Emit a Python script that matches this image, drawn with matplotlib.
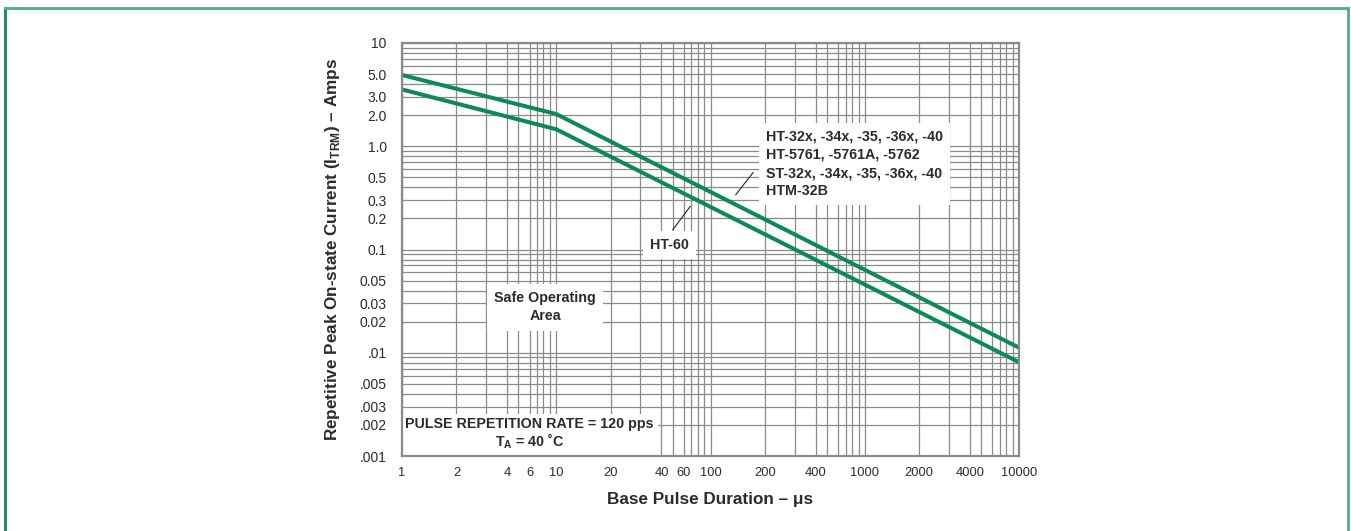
import numpy as np
import matplotlib
matplotlib.use("Agg")
import matplotlib.pyplot as plt
from matplotlib.lines import Line2D
from matplotlib.ticker import FixedLocator, NullFormatter

plt.rcParams['font.family'] = ['Liberation Sans', 'DejaVu Sans']
plt.rcParams['mathtext.fontset'] = 'custom'
plt.rcParams['mathtext.rm'] = 'Liberation Sans'
plt.rcParams['mathtext.bf'] = 'Liberation Sans:bold'

# --- data ---
pulse_us = [1, 10, 10000]
ht32_amps = [4.9, 2.05, 0.0112]     # HT-32x ... HTM-32B
ht60_amps = [3.55, 1.46, 0.0081]    # HT-60

x_ticks = [1, 2, 4, 6, 10, 20, 40, 60, 100, 200, 400, 1000, 2000, 4000, 10000]
x_labels = [str(v) for v in x_ticks]
y_ticks = [10, 5, 3, 2, 1, 0.5, 0.3, 0.2, 0.1, 0.05, 0.03, 0.02, 0.01,
           0.005, 0.003, 0.002, 0.001]
y_labels = ["10", "5.0", "3.0", "2.0", "1.0", "0.5", "0.3", "0.2", "0.1",
            "0.05", "0.03", "0.02", ".01", ".005", ".003", ".002", ".001"]

big_label = ("HT-32x, -34x, -35, -36x, -40\n"
             "HT-5761, -5761A, -5762\n"
             "ST-32x, -34x, -35, -36x, -40\n"
             "HTM-32B")

# the printed x grid is a log grid squeezed the same way inside every decade
LOG_KNOTS = np.log10(np.arange(1, 11))
GRID_KNOTS = np.array([0, .353, .545, .682, .755, .828, .876, .917, .961, 1.0])


def fwd(x):
    lx = np.log10(np.clip(np.asarray(x, dtype=float), 1e-12, None))
    d = np.floor(lx)
    return d + np.interp(lx - d, LOG_KNOTS, GRID_KNOTS)


def inv(y):
    y = np.asarray(y, dtype=float)
    d = np.floor(y)
    return 10 ** (d + np.interp(y - d, GRID_KNOTS, LOG_KNOTS))


GREEN = '#0b8a56'
GRID = '#8a8a8a'
TXT = '#2b2b2b'
FS = 10.3

fig = plt.figure(figsize=(13.51, 5.31), dpi=100)
ax = fig.add_axes([402 / 1351, 75 / 531, 617 / 1351, 413 / 531])

ax.set_xscale('function', functions=(fwd, inv))
ax.set_yscale('log')
ax.set_xlim(1, 10000)
ax.set_ylim(0.001, 10)

minor_x = [m * 10 ** k for k in range(4) for m in range(2, 10)]
minor_y = [m * 10.0 ** k for k in range(-3, 1) for m in range(2, 10)]
ax.xaxis.set_major_locator(FixedLocator(x_ticks))
ax.xaxis.set_minor_locator(FixedLocator(minor_x))
ax.set_xticks(x_ticks, x_labels)
ax.xaxis.set_minor_formatter(NullFormatter())
ax.yaxis.set_major_locator(FixedLocator(y_ticks))
ax.yaxis.set_minor_locator(FixedLocator(minor_y))
ax.set_yticks(y_ticks, y_labels)
ax.yaxis.set_minor_formatter(NullFormatter())

ax.grid(True, which='both', color=GRID, lw=0.9)
ax.set_axisbelow(True)
ax.tick_params(which='both', length=0, colors=TXT)
ax.tick_params(axis='x', pad=8, labelsize=9.3)
ax.tick_params(axis='y', pad=11, labelsize=10)
for s in ax.spines.values():
    s.set_color('#8a8a8a')
    s.set_linewidth(1.6)
    s.set_zorder(6)

ax.plot(pulse_us, ht32_amps, color=GREEN, lw=2.9, solid_joinstyle='round', zorder=4)
ax.plot(pulse_us, ht60_amps, color=GREEN, lw=2.9, solid_joinstyle='round', zorder=4)

ax.set_xlabel("Base Pulse Duration – μs", fontsize=12.3, fontweight='bold',
              color=TXT, labelpad=9)
ax.set_ylabel(r"Repetitive Peak On-state Current (I$_{\mathbf{TRM}}$) – Amps",
              fontsize=12.3, fontweight='bold', color=TXT, labelpad=13)

box = dict(facecolor='white', edgecolor='none')
ax.text(0.232, 0.36, "Safe Operating\nArea", transform=ax.transAxes,
        ha='center', va='center', fontsize=FS, fontweight='bold', color=TXT,
        linespacing=1.37, bbox=dict(box, boxstyle='square,pad=0.5'), zorder=5)
ax.text(0.207, 0.054, "PULSE REPETITION RATE = 120 pps\nT$_{\\mathbf{A}}$ = 40 ˚C",
        transform=ax.transAxes, ha='center', va='center', fontsize=FS,
        fontweight='bold', color=TXT, linespacing=1.05,
        bbox=dict(box, boxstyle='square,pad=0.3'), zorder=5)
ax.text(0.590, 0.707, big_label, transform=ax.transAxes, ha='left', va='center',
        fontsize=FS, fontweight='bold', color=TXT, linespacing=1.37,
        bbox=dict(box, boxstyle='square,pad=0.5'), zorder=5)
ax.text(0.433, 0.511, "HT-60", transform=ax.transAxes, ha='center', va='center',
        fontsize=FS, fontweight='bold', color=TXT,
        bbox=dict(box, boxstyle='square,pad=0.5'), zorder=5)

# leader lines
ax.annotate('', xy=(0.470, 0.610), xytext=(0.436, 0.542), xycoords='axes fraction',
            arrowprops=dict(arrowstyle='-', color='#222222', lw=0.8), zorder=6)
ax.annotate('', xy=(0.538, 0.627), xytext=(0.572, 0.692), xycoords='axes fraction',
            arrowprops=dict(arrowstyle='-', color='#222222', lw=0.8), zorder=6)

# outer green frame (open at the bottom)
fig.add_artist(Line2D([4.5 / 1351, 4.5 / 1351], [0, 1 - 7.5 / 531],
                      transform=fig.transFigure, color='#12895a', lw=2))
fig.add_artist(Line2D([4.5 / 1351, 1347.5 / 1351], [1 - 7.5 / 531, 1 - 7.5 / 531],
                      transform=fig.transFigure, color='#4fae86', lw=2))
fig.add_artist(Line2D([1347.5 / 1351, 1347.5 / 1351], [0, 1 - 7.5 / 531],
                      transform=fig.transFigure, color='#4fae86', lw=2))

fig.savefig("out.png", dpi=100)
